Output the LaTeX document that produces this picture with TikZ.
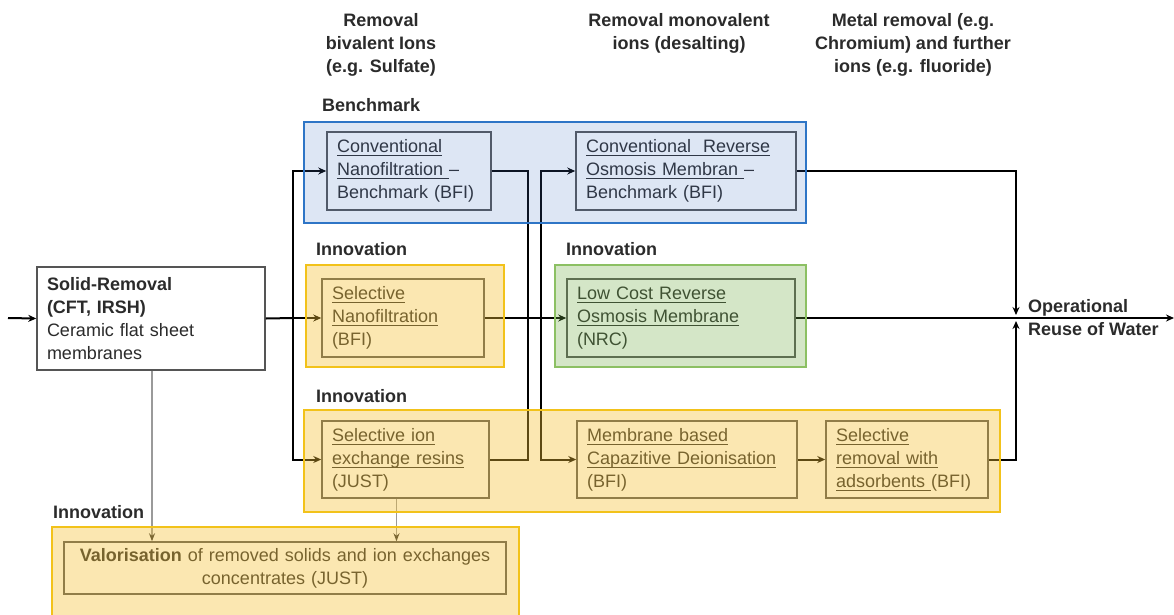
\documentclass[tikz,border=0pt]{standalone}
\usepackage{fontspec}
\setmainfont{Liberation Sans}
\newcommand\myul[1]{\leavevmode\setbox0\hbox{#1}\rlap{\rule[-3.5pt]{\wd0}{1.1pt}}\box0}
\usetikzlibrary{arrows.meta}
\definecolor{txt}{HTML}{2B2B2B}
\definecolor{boxline}{HTML}{555555}
\definecolor{benchblue}{HTML}{2E75C6}
\definecolor{benchfill}{HTML}{4472C4}
\definecolor{yelline}{HTML}{F2C21A}
\definecolor{yelfill}{HTML}{F5C033}
\definecolor{grnline}{HTML}{8CC063}
\definecolor{grnfill}{HTML}{70AD47}
\definecolor{grayline}{HTML}{9A9A9A}
\tikzset{
  every node/.style={font=\fontsize{18}{23}\selectfont, text=txt},
  hdr/.style={font=\fontsize{18}{23}\selectfont\bfseries, align=center},
  lbl/.style={font=\fontsize{18}{23}\selectfont\bfseries, anchor=west, inner sep=0pt},
  stepbox/.style={draw=boxline, line width=1.5pt, inner xsep=10pt, inner ysep=0pt, align=left},
  outerbox/.style={line width=2.4pt, inner sep=0pt},
  wire/.style={line width=2pt, draw=black},
  flow/.style={wire, -{Stealth[length=8pt,width=7pt]}},
  gflow/.style={line width=1.2pt, draw=grayline, -{Stealth[length=8pt,width=6pt,color=black!80]}}
}
\begin{document}
\begin{tikzpicture}[x=1pt,y=-1pt]
\useasboundingbox (0,0) rectangle (1174,614);
% headers
\node[hdr] (h1) at (381,45) {Removal\\bivalent Ions\\(e.g. Sulfate)};
\node[hdr] (h2) at (679,33.5) {Removal monovalent\\ions (desalting)};
\node[hdr] (h3) at (913,45) {Metal removal (e.g.\\Chromium) and further\\ions (e.g. fluoride)};
\node[lbl] (lb1) at (322,105) {Benchmark};
\node[lbl] (lb2) at (316,249) {Innovation};
\node[lbl] (lb3) at (566,249) {Innovation};
\node[lbl] (lb4) at (316,396) {Innovation};
\node[lbl] (lb5) at (53,512) {Innovation};
\node[lbl, align=left] (op) at (1028,318) {Operational\\Reuse of Water};
% boxes
\node[stepbox, fill=white, text width=208pt, minimum height=103pt] (solid) at (151,318.5)
  {\textbf{Solid-Removal}\\\textbf{(CFT, IRSH)}\\Ceramic flat sheet\\membranes};
\node[stepbox, text width=144pt, minimum height=78pt] (convNF) at (409,171)
  {\myul{Conventional}\\\myul{Nanofiltration }–\\Benchmark (BFI)};
\node[stepbox, text width=200pt, minimum height=78pt] (convRO) at (686,171)
  {\myul{Conventional\ \ Reverse}\\\myul{Osmosis Membran }–\\Benchmark (BFI)};
\node[stepbox, text width=142pt, minimum height=78pt] (selNF) at (403,318)
  {\myul{Selective}\\\myul{Nanofiltration}\\(BFI)};
\node[stepbox, text width=208pt, minimum height=78pt] (lowRO) at (681,318)
  {\myul{Low Cost Reverse}\\\myul{Osmosis Membrane}\\(NRC)};
\node[stepbox, text width=147pt, minimum height=77pt] (ionex) at (405.5,459.5)
  {\myul{Selective ion}\\\myul{exchange resins}\\(JUST)};
\node[stepbox, text width=200pt, minimum height=77pt] (cdi) at (687,459.5)
  {\myul{Membrane based}\\\myul{Capazitive Deionisation}\\(BFI)};
\node[stepbox, text width=142pt, minimum height=77pt] (selrem) at (907,459.5)
  {\myul{Selective}\\\myul{removal with}\\\myul{adsorbents }(BFI)};
\node[stepbox, align=center, text width=422pt, minimum height=52pt] (valor) at (285,568)
  {\textbf{Valorisation} of removed solids and ion exchanges\\concentrates (JUST)};
% junctions
\coordinate (in) at (8,318);
\coordinate (j1) at (293,318);
\coordinate (j2) at (528,318);
\coordinate (j3) at (541,318);
\coordinate (outN) at (1016,315);
\coordinate (outS) at (1016,321);
\coordinate (outE) at (1174,318);
% connectors
\draw[flow] (in) -- (solid.west);
\draw[wire] (solid.east) -- (j1);
\draw[flow] (j1) -- (selNF.west);
\draw[flow] (j1) |- (convNF.west);
\draw[flow] (j1) |- (ionex.west);
\draw[wire] (convNF.east) -| (j2);
\draw[wire] (ionex.east) -| (j2);
\draw[flow] (selNF.east) -- (lowRO.west);
\draw[flow] (j3) |- (convRO.west);
\draw[flow] (j3) |- (cdi.west);
\draw[flow] (convRO.east) -| (outN);
\draw[flow] (selrem.east) -| (outS);
\draw[flow] (lowRO.east) -- (outE);
\draw[flow] (cdi.east) -- (selrem.west);
\draw[gflow] ([xshift=1pt]solid.south) -- ([xshift=1pt]solid.south |- valor.north);
\draw[gflow] ([xshift=-9pt]ionex.south) -- ([xshift=-9pt]ionex.south |- valor.north);
% overlay group boxes
\node[outerbox, draw=benchblue, fill=benchfill, fill opacity=0.18, minimum width=502pt, minimum height=101pt] (bench) at (555,172.5) {};
\node[outerbox, draw=yelline, fill=yelfill, fill opacity=0.38, minimum width=198pt, minimum height=102pt] (innoA) at (405,316) {};
\node[outerbox, draw=grnline, fill=grnfill, fill opacity=0.3, minimum width=251pt, minimum height=102pt] (innoB) at (680.5,316) {};
\node[outerbox, draw=yelline, fill=yelfill, fill opacity=0.38, minimum width=696pt, minimum height=102pt] (innoC) at (652,461) {};
\node[outerbox, draw=yelline, fill=yelfill, fill opacity=0.38, minimum width=467pt, minimum height=100pt] (innoD) at (285.5,577) {};
\end{tikzpicture}
\end{document}
